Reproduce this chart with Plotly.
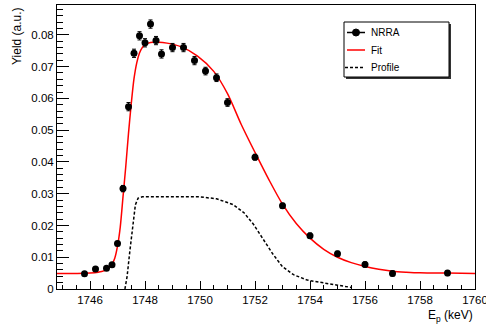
import plotly.graph_objects as go

# Measured yield (NRRA) with statistical errors
energy_kev = [1745.8, 1746.2, 1746.6, 1746.8, 1747.0, 1747.2, 1747.4, 1747.6, 1747.8,
              1748.0, 1748.2, 1748.4, 1748.6, 1749.0, 1749.4, 1749.8, 1750.2, 1750.6,
              1751.0, 1752.0, 1753.0, 1754.0, 1755.0, 1756.0, 1757.0, 1759.0]
yield_au = [0.0048, 0.0063, 0.0065, 0.0076, 0.0143, 0.0316, 0.0574, 0.0742, 0.0797,
            0.0775, 0.0834, 0.0782, 0.0740, 0.0760, 0.0760, 0.0719, 0.0686, 0.0665,
            0.0587, 0.0415, 0.0262, 0.0168, 0.0111, 0.0077, 0.0049, 0.0050]
yield_err = [0.0006, 0.0006, 0.0006, 0.0006, 0.0007, 0.0010, 0.0013, 0.0013, 0.0013,
             0.0013, 0.0013, 0.0013, 0.0013, 0.0013, 0.0013, 0.0013, 0.0012, 0.0012,
             0.0012, 0.0009, 0.0008, 0.0008, 0.0008, 0.0008, 0.0008, 0.0008]

# Fitted yield curve, sampled
fit_e = [1744.8, 1745.5, 1746.0, 1746.3, 1746.6, 1746.8, 1746.9, 1747.0, 1747.1,
         1747.2, 1747.3, 1747.4, 1747.5, 1747.6, 1747.7, 1747.8, 1747.9, 1748.0,
         1748.2, 1748.5, 1748.8, 1749.3, 1749.9, 1750.5, 1751.0, 1751.5, 1752.0,
         1752.5, 1753.0, 1753.5, 1754.0, 1754.5, 1755.0, 1755.5, 1756.0, 1756.5,
         1757.0, 1757.5, 1758.0, 1759.0, 1760.0]
fit_y = [0.0049, 0.0049, 0.0050, 0.0053, 0.0060, 0.0078, 0.0097, 0.0135, 0.0195,
         0.0290, 0.0385, 0.0490, 0.0583, 0.0662, 0.0712, 0.0743, 0.0760, 0.0769,
         0.0776, 0.0777, 0.0774, 0.0763, 0.0734, 0.0685, 0.0615, 0.0518, 0.0430,
         0.0345, 0.0267, 0.0206, 0.0160, 0.0125, 0.0100, 0.0083, 0.0071, 0.0062,
         0.0056, 0.0053, 0.0051, 0.0050, 0.0049]

# Beam energy profile, sampled
prof_e = [1747.27, 1747.35, 1747.45, 1747.55, 1747.65, 1747.75, 1747.9, 1750.0,
          1750.6, 1751.2, 1751.6, 1751.95, 1752.3, 1752.65, 1753.0, 1753.4, 1753.9,
          1754.5, 1755.0, 1755.5]
prof_y = [0.0000, 0.0040, 0.0120, 0.0200, 0.0265, 0.0286, 0.0290, 0.0290,
          0.0284, 0.0266, 0.0240, 0.0203, 0.0157, 0.0110, 0.0070, 0.0045, 0.0028,
          0.0018, 0.0012, 0.0005]

legend_names = ["NRRA", "Fit", "Profile"]

FONT = "Liberation Sans, Arial, Helvetica, sans-serif"
W, H = 486, 324
ML, MR, MT, MB = 57, 11, 5, 35
PW, PH = W - ML - MR, H - MT - MB


def px_x(x):
    return (x - ML) / PW


def px_y(y):
    return (H - MB - y) / PH


fig = go.Figure()

fig.add_trace(go.Scatter(
    x=prof_e, y=prof_y, mode="lines", name=legend_names[2],
    line=dict(color="black", width=1.5, dash="3px,2px"), showlegend=False))

fig.add_trace(go.Scatter(
    x=fit_e, y=fit_y, mode="lines", name=legend_names[1],
    line=dict(color="#ff0000", width=1.5, shape="spline", smoothing=0.8),
    showlegend=False))

fig.add_trace(go.Scatter(
    x=energy_kev, y=yield_au, mode="markers", name=legend_names[0],
    marker=dict(color="black", size=7),
    error_y=dict(type="data", array=yield_err, color="black", thickness=1, width=2),
    showlegend=False))

# Legend box drawn in pixel positions
shapes = []
bx0, bx1, by0, by1 = 344, 449, 22, 77
shapes.append(dict(type="rect", xref="paper", yref="paper",
                   x0=px_x(bx0 + 2), x1=px_x(bx1 + 2), y0=px_y(by1 + 2), y1=px_y(by0 + 2),
                   line=dict(width=0), fillcolor="#333333", layer="above"))
shapes.append(dict(type="rect", xref="paper", yref="paper",
                   x0=px_x(bx0), x1=px_x(bx1), y0=px_y(by1), y1=px_y(by0),
                   line=dict(color="black", width=1), fillcolor="white", layer="above"))
rows = [32.5, 50, 67.5]
sx0, sx1 = 347, 365
shapes.append(dict(type="line", xref="paper", yref="paper",
                   x0=px_x(sx0), x1=px_x(sx1), y0=px_y(rows[0]), y1=px_y(rows[0]),
                   line=dict(color="black", width=1.5), layer="above"))
shapes.append(dict(type="circle", xref="paper", yref="paper",
                   xsizemode="pixel", ysizemode="pixel",
                   xanchor=px_x((sx0 + sx1) / 2), yanchor=px_y(rows[0]),
                   x0=-3.5, x1=3.5, y0=-3.5, y1=3.5,
                   line=dict(color="black", width=1), fillcolor="black", layer="above"))
shapes.append(dict(type="line", xref="paper", yref="paper",
                   x0=px_x(sx0), x1=px_x(sx1), y0=px_y(rows[1]), y1=px_y(rows[1]),
                   line=dict(color="#ff0000", width=1.5), layer="above"))
shapes.append(dict(type="line", xref="paper", yref="paper",
                   x0=px_x(sx0 - 2), x1=px_x(sx1), y0=px_y(rows[2]), y1=px_y(rows[2]),
                   line=dict(color="black", width=1.5, dash="3px,2px"), layer="above"))

annotations = []
for name, ry in zip(legend_names, rows):
    annotations.append(dict(text=name, xref="paper", yref="paper",
                            x=px_x(369), y=px_y(ry), xanchor="left", yanchor="middle",
                            showarrow=False, font=dict(family=FONT, size=10, color="black")))

annotations.append(dict(text="Yield (a.u.)", xref="paper", yref="paper",
                        x=px_x(17), y=1.0, xanchor="center", yanchor="top",
                        textangle=-90, showarrow=False,
                        font=dict(family=FONT, size=12, color="black")))
annotations.append(dict(text="E<sub>p</sub> (keV)", xref="paper", yref="paper",
                        x=1.0, y=px_y(306), xanchor="right", yanchor="top",
                        showarrow=False, font=dict(family=FONT, size=12, color="black")))

fig.update_layout(
    width=W, height=H,
    margin=dict(l=ML, r=MR, t=MT, b=MB, pad=0, autoexpand=False),
    paper_bgcolor="white", plot_bgcolor="white",
    font=dict(family=FONT, size=11.5, color="black"),
    shapes=shapes, annotations=annotations,
    showlegend=False,
)

fig.update_xaxes(
    range=[1744.8, 1760.0001], tick0=1746, dtick=2,
    ticks="inside", ticklen=8, tickcolor="black", tickwidth=1,
    ticklabeloverflow="allow", automargin=False,
    minor=dict(dtick=0.5, ticks="inside", ticklen=4, tickcolor="black", tickwidth=1),
    showline=True, linecolor="black", linewidth=1, mirror=True,
    showgrid=False, zeroline=False,
    tickfont=dict(family=FONT, size=11.5, color="black"),
)
fig.update_yaxes(
    range=[0, 0.0894], tick0=0, dtick=0.01,
    ticks="inside", ticklen=12, tickcolor="black", tickwidth=1,
    automargin=False,
    minor=dict(dtick=0.002, ticks="inside", ticklen=6, tickcolor="black", tickwidth=1),
    showline=True, linecolor="black", linewidth=1, mirror=True,
    showgrid=False, zeroline=False,
    tickfont=dict(family=FONT, size=11.5, color="black"),
)

fig.write_html("out.html")
